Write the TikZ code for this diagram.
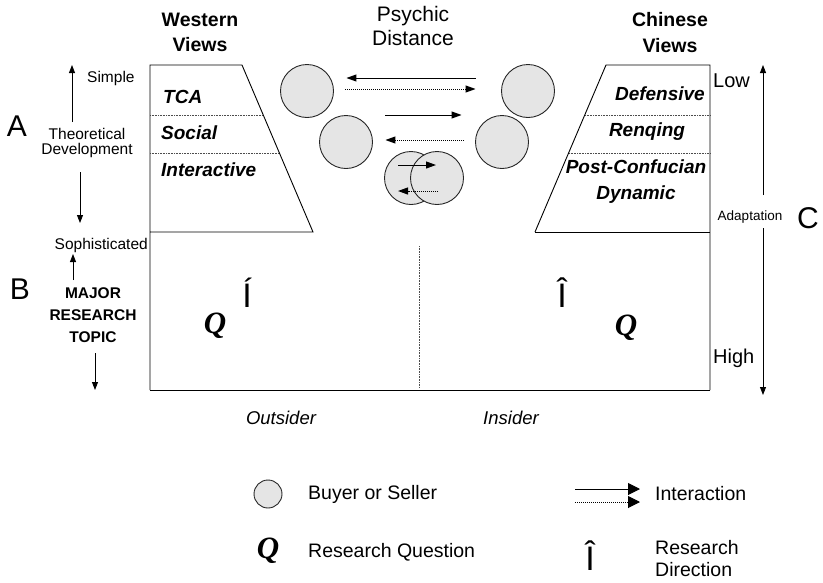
\documentclass[tikz,border=0pt]{standalone}
\usepackage{fontspec}
\setmainfont{Liberation Sans}
\newfontfamily\qfont{Liberation Serif}
\usetikzlibrary{arrows.meta,calc}

\begin{document}
\begin{tikzpicture}[x=1pt,y=-1pt,
  frame/.style={line width=0.9pt, line join=miter},
  sepline/.style={densely dotted, line width=0.6pt, black!70},
  actor/.style={circle, draw=black!85, fill=black!10, line width=0.9pt,
    minimum size=53pt, inner sep=0pt},
  flow/.style={line width=1pt, -{Triangle[length=10pt,width=7pt]}},
  flowd/.style={flow, densely dotted},
  keyflow/.style={line width=1pt, -{Triangle[length=12pt,width=12pt]}},
  axis/.style={line width=0.9pt, -{Triangle[length=8pt,width=6pt]}},
  lbl/.style={inner sep=0pt, font=\fontsize{15.5}{15}\selectfont, align=center},
  head/.style={inner sep=0pt, font=\fontsize{19.5}{25.5}\selectfont\bfseries, align=center},
  item/.style={inner sep=0pt, font=\fontsize{19}{26}\selectfont\bfseries\itshape, align=center},
  side/.style={inner sep=0pt, font=\fontsize{20}{24}\selectfont},
  letter/.style={inner sep=0pt, font=\fontsize{30}{30}\selectfont},
  legend/.style={inner sep=0pt, font=\fontsize{19.5}{22}\selectfont, align=left},
  qmark/.style={inner sep=0pt, font=\qfont\bfseries\itshape\fontsize{31}{31}\selectfont},
  dmark/.style={inner sep=0pt, font=\fontsize{34}{34}\selectfont},
]
\useasboundingbox (0,0) rectangle (823,582);

% --- Western views: trapezoid and lower-left half of the frame
\draw[frame] (150,390) -- (150,65) -- (242,65) -- (313,232) -- (150,232);
\draw[sepline] (150,115) -- (263,115);
\draw[sepline] (150,153) -- (279,153);

% --- Chinese views: trapezoid and right side of the frame
\draw[frame] (535,232) -- (606,65) -- (710,65) -- (710,390);
\draw[frame] (535,232) -- (710,232);
\draw[sepline] (585,115) -- (710,115);
\draw[sepline] (569,153) -- (710,153);

% --- bottom of the frame and the outsider/insider divider
\draw[frame] (150,390) -- (710,390);
\draw[sepline] (419,246) -- (419,388);

% --- headings
\node[head] (west) at (200,32.3) {Western\\Views};
\node[head] (china) at (670,32.3) {Chinese\\Views};
\node[inner sep=0pt, font=\fontsize{21}{24}\selectfont, align=center] (psy) at (413,26) {Psychic\\Distance};

% --- approaches inside the trapezoids
\node[item, anchor=base west] (tca) at (163,103.6) {TCA};
\node[item, anchor=base west] (soc) at (161,139) {Social};
\node[item, anchor=base west] (inter) at (161,176.6) {Interactive};
\node[item, anchor=base east] (def) at (705,100.3) {Defensive};
\node[item, anchor=base] (ren) at (647,136.6) {Renqing};
\node[item] (pcd) at (636,182) {Post-Confucian\\Dynamic};

% --- buyers and sellers
\node[actor] (c1) at (307,91) {};
\node[actor] (c2) at (346,142) {};
\node[actor] (c3) at (528,91) {};
\node[actor] (c4) at (502,142) {};
\node[actor] (c5) at (411,178) {};
\node[actor] (c6) at (437,178) {};

% --- interactions
\draw[flow]  ($(c3.west)+(-25.5,-13)$) -- ($(c1.east)+(12.5,-13)$);
\draw[flowd] ($(c1.east)+(11.5,-2)$) -- ($(c3.west)+(-25.5,-2)$);
\draw[flow]  ($(c2.east)+(12.5,-27)$) -- ($(c4.west)+(-13.5,-27)$);
\draw[flowd] ($(c4.west)+(-11.5,-2)$) -- ($(c2.east)+(12.5,-2)$);
\draw[flow]  ($(c5.center)+(-13,-13)$) -- ($(c6.center)+(-1,-13)$);
\draw[flowd] ($(c6.center)+(1,13)$) -- ($(c5.center)+(-13,13)$);

% --- left scale: theoretical development
\node[letter, anchor=base] (la) at (17,136) {A};
\node[lbl, anchor=base west] (simple) at (87,82.5) {Simple};
\node[lbl] (theo) at (87,142.6) {Theoretical\\Development};
\node[lbl, anchor=base east] (soph) at (148,249) {Sophisticated};
\coordinate (sUp0) at (72,122);
\coordinate (sUp1) at (72,65);
\coordinate (sDn0) at (80,172);
\coordinate (sDn1) at (80,223);
\draw[axis] (sUp0) -- (sUp1);
\draw[axis] (sDn0) -- (sDn1);

% --- left scale: major research topic
\node[letter, anchor=base] (lb) at (20,299) {B};
\node[lbl, font=\fontsize{15.5}{22}\selectfont\bfseries] (topic) at (93,315) {MAJOR\\RESEARCH\\TOPIC};
\coordinate (tUp0) at (73,280);
\coordinate (tUp1) at (73,254);
\coordinate (tDn0) at (95,353);
\coordinate (tDn1) at (95,390);
\draw[axis] (tUp0) -- (tUp1);
\draw[axis] (tDn0) -- (tDn1);

% --- right scale: adaptation
\node[side, anchor=base west] (low) at (713,87) {Low};
\node[side, anchor=base west] (high) at (713,363) {High};
\node[inner sep=0pt, font=\fontsize{13.5}{15}\selectfont] (adapt) at (750,217) {Adaptation};
\node[letter, anchor=base] (lc) at (808,228) {C};
\coordinate (aTop) at (763,65);
\coordinate (aMid0) at (763,195);
\coordinate (aMid1) at (763,228);
\coordinate (aBot) at (763,395);
\draw[axis] (aMid0) -- (aTop);
\draw[axis] (aMid1) -- (aBot);

% --- research questions and directions
\node[qmark, anchor=base] (q1) at (215,333) {Q};
\node[dmark, anchor=base] (d1) at (247,307) {Í};
\node[dmark, anchor=base] (d2) at (562,307) {Î};
\node[qmark, anchor=base] (q2) at (626,335) {Q};

% --- perspectives
\node[inner sep=0pt, font=\fontsize{18.5}{20}\selectfont\itshape, anchor=base] (out) at (281,424.6) {Outsider};
\node[inner sep=0pt, font=\fontsize{18.5}{20}\selectfont\itshape, anchor=base] (ins) at (511,424.6) {Insider};

% --- legend
\node[actor, minimum size=28pt] (keyc) at (268,494) {};
\node[legend, anchor=west] (keyct) at (308,494) {Buyer or Seller};
\coordinate (k1a) at (575,489);
\coordinate (k1b) at (640,489);
\coordinate (k2a) at (575,502);
\coordinate (k2b) at (640,502);
\draw[keyflow] (k1a) -- (k1b);
\draw[keyflow, densely dotted] (k2a) -- (k2b);
\node[legend, anchor=west] (keyft) at (655,494) {Interaction};
\node[qmark, anchor=base] (keyq) at (268,558) {Q};
\node[legend, anchor=west] (keyqt) at (308,552) {Research Question};
\node[dmark, anchor=base] (keyd) at (590,570) {Î};
\node[legend, anchor=west] (keydt) at (655,559) {Research\\Direction};
\end{tikzpicture}
\end{document}
